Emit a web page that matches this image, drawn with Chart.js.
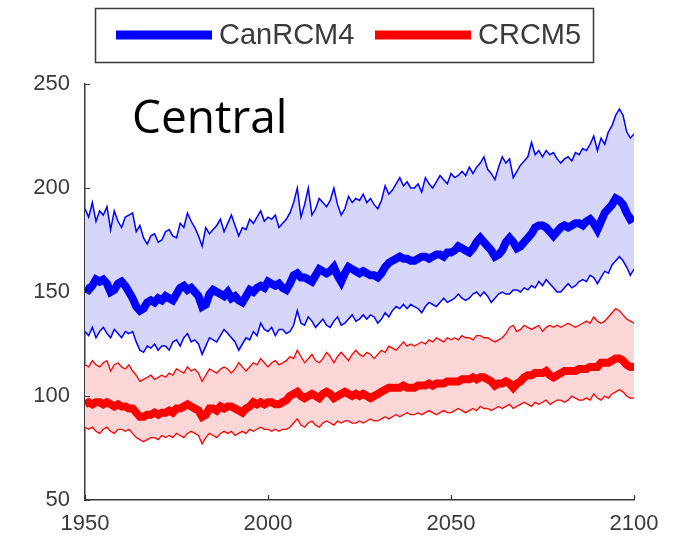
<!DOCTYPE html>
<html>
<head>
<meta charset="utf-8">
<script src="https://cdn.jsdelivr.net/npm/chart.js@4.4.1/dist/chart.umd.min.js"></script>
<style>
  html, body { margin: 0; padding: 0; background: #fff; }
  #wrap { width: 679px; height: 545px; }
</style>
</head>
<body>
<div id="wrap"><canvas id="centralChart" width="679" height="545"></canvas></div>
<script>
// years 1950..2100, one value per year
var firstYear = 1950;
var lastYear = 2100;
var xTicks = [1950, 2000, 2050, 2100];
var yTicks = [50, 100, 150, 200, 250];
var regionName = 'Central';
var modelNames = ['CanRCM4', 'CRCM5'];

var canMax = [
  190,186,193,184,189,187,191,180,189,184,
  181,186,187,188,179,182,176,173,177,178,
  174,175,179,180,177,176,183,181,188,184,
  181,177,172,181,178,180,182,185,179,183,
  187,182,177,181,180,185,183,186,189,184,
  186,185,187,181,183,185,188,193,200,186,
  192,200,187,190,195,193,191,194,200,192,
  187,190,196,193,195,194,197,193,195,192,
  190,194,201,197,199,202,205,201,203,200,
  200,202,198,205,202,200,203,206,204,202,
  207,205,206,208,206,210,207,210,212,215,
  209,207,204,210,215,212,214,205,208,211,
  213,215,222,216,218,215,218,216,217,214,
  212,214,215,213,217,216,219,218,221,225,
  218,224,221,227,230,235,238,235,227,224,
  226
];
var canMean = [
  152,151,153,156,155,156,154,150,151,154,
  155,153,150,147,143,141,142,145,146,145,
  147,146,148,147,146,149,152,153,151,152,
  150,148,143,144,149,151,150,149,148,150,
  147,148,146,145,148,151,150,152,153,152,
  155,154,153,154,152,151,154,158,159,157,
  157,156,155,158,161,160,159,160,162,158,
  155,159,162,161,160,159,160,159,158,158,
  157,159,162,164,165,166,167,166,166,165,
  165,166,167,167,166,167,168,168,167,169,
  169,170,172,171,170,169,171,174,176,174,
  172,170,167,168,170,174,176,174,171,172,
  174,176,178,181,182,182,181,179,177,179,
  181,182,181,182,183,183,182,184,185,183,
  180,184,188,190,192,195,194,192,188,185,
  186
];
var canMin = [
  131,129,133,128,131,133,130,128,132,130,
  128,131,130,131,126,122,121,124,123,125,
  122,124,124,122,126,127,124,128,130,126,
  127,125,120,124,128,127,126,129,132,130,
  128,126,122,125,128,127,131,129,135,132,
  131,133,129,132,132,130,131,134,141,135,
  134,138,136,133,135,137,134,133,136,138,
  134,135,137,139,136,137,139,137,139,138,
  135,137,140,138,141,143,142,144,142,144,
  143,142,140,143,145,144,143,145,147,145,
  146,147,149,147,146,147,149,150,148,150,
  148,145,147,149,150,149,149,151,151,150,
  152,151,153,152,155,153,156,154,152,150,
  150,152,154,152,153,155,156,155,158,157,
  154,157,160,159,163,165,167,165,162,158,
  161
];

var crMax = [
  115,114,117,115,114,116,117,112,115,116,
  114,113,115,112,110,107,108,109,110,108,
  109,110,109,111,110,113,112,111,114,112,
  113,111,107,110,113,112,111,113,114,113,
  111,113,116,114,112,114,116,115,118,116,
  114,116,117,115,116,117,119,118,122,119,
  116,118,120,117,116,118,121,119,116,119,
  121,119,117,120,122,120,119,121,120,118,
  120,122,121,124,123,122,124,126,124,125,
  124,125,126,125,127,126,128,127,126,128,
  127,128,127,129,128,128,127,129,129,128,
  128,127,126,127,128,130,133,134,131,132,
  134,133,132,133,134,131,133,134,133,134,
  133,134,135,134,133,134,135,136,135,138,
  136,135,136,138,140,142,141,139,137,136,
  135
];
var crMean = [
  96,97,96,97,97,96,97,96,95,96,
  95,95,94,94,92,90,90,91,91,92,
  91,92,92,93,92,94,94,95,96,95,
  94,93,90,91,94,94,93,95,94,95,
  95,94,93,92,94,95,97,96,97,96,
  97,97,96,96,97,98,100,101,102,100,
  99,100,101,100,99,101,102,101,99,100,
  101,102,101,100,101,100,101,100,99,100,
  101,102,103,104,104,104,104,105,104,104,
  104,105,105,105,106,105,106,106,106,107,
  107,107,107,108,108,108,109,108,109,109,
  108,107,105,106,106,107,106,104,106,107,
  109,110,110,111,111,111,112,110,109,110,
  111,112,112,112,112,113,113,113,114,114,
  114,116,116,116,117,118,118,117,115,114,
  114
];
var crMin = [
  85,84,85,83,82,84,85,83,82,84,
  84,83,84,82,80,79,78,79,80,80,
  79,81,80,81,80,82,81,80,82,83,
  82,81,77,80,82,81,80,82,83,82,
  83,81,82,83,82,84,83,84,85,84,
  84,83,84,83,84,84,85,87,89,86,
  85,87,88,86,85,87,88,87,86,88,
  87,88,88,87,87,88,87,88,89,88,
  88,89,90,89,90,91,90,91,92,91,
  91,92,91,92,93,92,91,92,93,92,
  92,93,94,93,92,93,94,93,95,94,
  94,93,94,95,94,95,96,94,95,96,
  97,96,95,97,96,97,98,96,97,98,
  98,97,98,100,99,98,98,99,98,101,
  99,98,100,99,101,102,103,102,100,99,
  99
];

function toPoints(values) {
  return values.map(function (v, i) { return { x: firstYear + i, y: v }; });
}

var axisColor = '#3a3a3a';

// small inward tick marks, legend box and the region title
var decorations = {
  id: 'decorations',
  afterDraw: function (chart) {
    var ctx = chart.ctx;
    var xs = chart.scales.x, ys = chart.scales.y;
    var area = chart.chartArea;
    ctx.save();
    ctx.strokeStyle = axisColor;
    ctx.lineWidth = 1.2;
    ctx.beginPath();
    xTicks.forEach(function (t) {
      var px = Math.round(xs.getPixelForValue(t)) + 0.5;
      ctx.moveTo(px, area.bottom);
      ctx.lineTo(px, area.bottom - 5);
    });
    yTicks.forEach(function (t) {
      var py = Math.round(ys.getPixelForValue(t)) + 0.5;
      ctx.moveTo(area.left, py);
      ctx.lineTo(area.left + 5, py);
    });
    ctx.stroke();

    // legend
    ctx.lineWidth = 1.5;
    ctx.strokeStyle = '#3a3a3a';
    ctx.strokeRect(95.5, 8.5, 498, 54);
    ctx.lineWidth = 9;
    ctx.lineCap = 'butt';
    ctx.strokeStyle = '#0000ff';
    ctx.beginPath(); ctx.moveTo(116, 35); ctx.lineTo(212, 35); ctx.stroke();
    ctx.strokeStyle = '#ff0000';
    ctx.beginPath(); ctx.moveTo(375, 35); ctx.lineTo(471, 35); ctx.stroke();
    ctx.fillStyle = axisColor;
    ctx.font = '29px "Liberation Sans", Arial, sans-serif';
    ctx.textBaseline = 'middle';
    ctx.textAlign = 'left';
    ctx.fillText(modelNames[0], 219, 36);
    ctx.fillText(modelNames[1], 478, 36);

    // title inside the axes
    ctx.fillStyle = '#000';
    ctx.font = '46px "Open Sans", sans-serif';
    ctx.textBaseline = 'alphabetic';
    ctx.fillText(regionName, 132, 133);
    ctx.restore();
  }
};

var ctx = document.getElementById('centralChart').getContext('2d');
var chart = new Chart(ctx, {
  type: 'line',
  data: {
    datasets: [
      { label: modelNames[0] + ' max', data: toPoints(canMax), borderColor: '#0000ff', borderWidth: 1.5,
        backgroundColor: '#d6d6fa', fill: { target: 2 } },
      { label: modelNames[0], data: toPoints(canMean), borderColor: '#0000ff', borderWidth: 8, fill: false },
      { label: modelNames[0] + ' min', data: toPoints(canMin), borderColor: '#0000ff', borderWidth: 1.5, fill: false },
      { label: modelNames[1] + ' max', data: toPoints(crMax), borderColor: '#ff0000', borderWidth: 1.3,
        backgroundColor: '#fdd7d7', fill: { target: 5 } },
      { label: modelNames[1], data: toPoints(crMean), borderColor: '#ff0000', borderWidth: 8, fill: false },
      { label: modelNames[1] + ' min', data: toPoints(crMin), borderColor: '#ff0000', borderWidth: 1.3, fill: false }
    ]
  },
  options: {
    responsive: false,
    animation: false,
    devicePixelRatio: 1,
    layout: { padding: { top: 84, right: 45, left: 0, bottom: 0 } },
    elements: { point: { radius: 0 }, line: { tension: 0, borderJoinStyle: 'miter' } },
    plugins: {
      legend: { display: false },
      tooltip: { enabled: false },
      filler: { drawTime: 'beforeDatasetsDraw' }
    },
    scales: {
      x: {
        type: 'linear',
        min: firstYear,
        max: lastYear,
        afterFit: function (s) { s.height = 45; },
        afterBuildTicks: function (s) { s.ticks = xTicks.map(function (v) { return { value: v }; }); },
        grid: { display: false, drawTicks: false },
        border: { display: true, color: axisColor, width: 1.5 },
        ticks: {
          padding: 11,
          color: axisColor,
          font: { family: '"Liberation Sans", Arial, sans-serif', size: 22 },
          callback: function (v) { return String(v); }
        }
      },
      y: {
        min: 50,
        max: 250,
        afterFit: function (s) { s.width = 85; },
        afterBuildTicks: function (s) { s.ticks = yTicks.map(function (v) { return { value: v }; }); },
        grid: { display: false, drawTicks: false },
        border: { display: true, color: axisColor, width: 1.5 },
        ticks: {
          padding: 15,
          color: axisColor,
          font: { family: '"Liberation Sans", Arial, sans-serif', size: 22 }
        }
      }
    }
  },
  plugins: [decorations]
});
</script>
</body>
</html>
